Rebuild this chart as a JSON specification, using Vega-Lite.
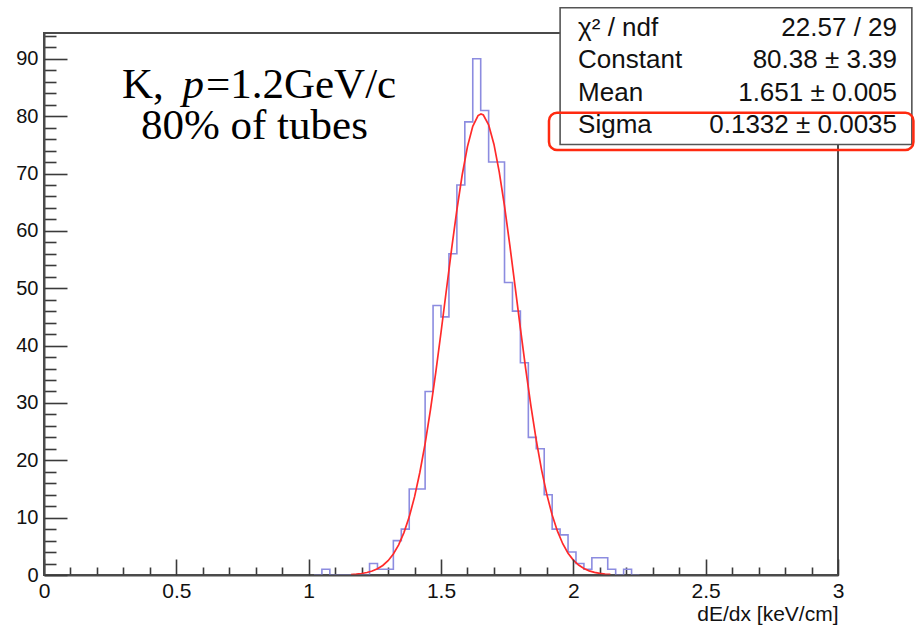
{
  "$schema": "https://vega.github.io/schema/vega-lite/v6.json",
  "width": 794,
  "height": 542,
  "autosize": {"type": "none"},
  "padding": {"left": 44, "top": 33, "right": 78, "bottom": 53},
  "background": "white",
  "data": {"values": [{}]},
  "config": {
    "view": {"stroke": "#4a4a4a", "strokeWidth": 2},
    "font": "Liberation Sans",
    "axis": {"labelFont": "Liberation Sans", "titleFont": "Liberation Sans", "labelColor": "#111", "titleColor": "#111", "grid": false}
  },
  "datasets": {
    "hist": [
      {"x": 1.02, "n": 0}, {"x": 1.05, "n": 1}, {"x": 1.08, "n": 0}, {"x": 1.11, "n": 0}, {"x": 1.14, "n": 0},
      {"x": 1.17, "n": 0}, {"x": 1.2, "n": 0}, {"x": 1.23, "n": 2}, {"x": 1.26, "n": 1}, {"x": 1.29, "n": 1},
      {"x": 1.32, "n": 6}, {"x": 1.35, "n": 8}, {"x": 1.38, "n": 15}, {"x": 1.41, "n": 15}, {"x": 1.44, "n": 32},
      {"x": 1.47, "n": 47}, {"x": 1.5, "n": 45}, {"x": 1.53, "n": 56}, {"x": 1.56, "n": 68}, {"x": 1.59, "n": 79},
      {"x": 1.62, "n": 90}, {"x": 1.65, "n": 81}, {"x": 1.68, "n": 72}, {"x": 1.71, "n": 72}, {"x": 1.74, "n": 51},
      {"x": 1.77, "n": 46}, {"x": 1.8, "n": 37}, {"x": 1.83, "n": 24}, {"x": 1.86, "n": 22}, {"x": 1.89, "n": 14},
      {"x": 1.92, "n": 8}, {"x": 1.95, "n": 7}, {"x": 1.98, "n": 4}, {"x": 2.01, "n": 2}, {"x": 2.04, "n": 1},
      {"x": 2.07, "n": 3}, {"x": 2.1, "n": 3}, {"x": 2.13, "n": 1}, {"x": 2.16, "n": 0}, {"x": 2.19, "n": 1},
      {"x": 2.22, "n": 0}, {"x": 2.25, "n": 0}
    ],
    "fit": [
      {"x": 1.16, "f": 0.09}, {"x": 1.18, "f": 0.155}, {"x": 1.2, "f": 0.26}, {"x": 1.22, "f": 0.428},
      {"x": 1.24, "f": 0.689}, {"x": 1.26, "f": 1.082}, {"x": 1.28, "f": 1.661}, {"x": 1.3, "f": 2.497},
      {"x": 1.32, "f": 3.668}, {"x": 1.34, "f": 5.265}, {"x": 1.36, "f": 7.392}, {"x": 1.38, "f": 10.14},
      {"x": 1.4, "f": 13.62}, {"x": 1.42, "f": 17.87}, {"x": 1.44, "f": 22.92}, {"x": 1.46, "f": 28.75},
      {"x": 1.48, "f": 35.26}, {"x": 1.5, "f": 42.28}, {"x": 1.52, "f": 49.56}, {"x": 1.54, "f": 56.8},
      {"x": 1.56, "f": 63.65}, {"x": 1.58, "f": 69.74}, {"x": 1.6, "f": 74.7}, {"x": 1.62, "f": 78.23},
      {"x": 1.64, "f": 80.11}, {"x": 1.651, "f": 80.38}, {"x": 1.66, "f": 80.2}, {"x": 1.68, "f": 78.5},
      {"x": 1.7, "f": 75.12}, {"x": 1.72, "f": 70.29}, {"x": 1.74, "f": 64.3}, {"x": 1.76, "f": 57.51},
      {"x": 1.78, "f": 50.29}, {"x": 1.8, "f": 43.0}, {"x": 1.82, "f": 35.94}, {"x": 1.84, "f": 29.38},
      {"x": 1.86, "f": 23.47}, {"x": 1.88, "f": 18.34}, {"x": 1.9, "f": 14.01}, {"x": 1.92, "f": 10.46},
      {"x": 1.94, "f": 7.64}, {"x": 1.96, "f": 5.452}, {"x": 1.98, "f": 3.805}, {"x": 2.0, "f": 2.597},
      {"x": 2.02, "f": 1.732}, {"x": 2.04, "f": 1.13}, {"x": 2.06, "f": 0.721}, {"x": 2.08, "f": 0.45},
      {"x": 2.1, "f": 0.274}, {"x": 2.12, "f": 0.163}, {"x": 2.14, "f": 0.095}
    ]
  },
  "layer": [
    {
      "data": {"name": "hist"},
      "mark": {"type": "line", "interpolate": "step-after", "color": "#8c8ce0", "strokeWidth": 1.6},
      "encoding": {
        "x": {"field": "x", "type": "quantitative", "scale": {"domain": [0, 3], "nice": false, "zero": false},
          "axis": {"orient": "bottom", "values": [0, 0.5, 1, 1.5, 2, 2.5, 3], "format": "~g", "ticks": false, "labelFontSize": 21, "labelPadding": 5, "labelFlush": false,
            "domain": true, "domainColor": "#4a4a4a", "domainWidth": 2, "zindex": 1,
            "title": "dE/dx [keV/cm]", "titleAnchor": "end", "titleFontSize": 21, "titleFontWeight": "normal", "titlePadding": 2}},
        "y": {"field": "n", "type": "quantitative", "scale": {"domain": [0, 94.5], "nice": false},
          "axis": {"orient": "left", "values": [0, 10, 20, 30, 40, 50, 60, 70, 80, 90], "ticks": false, "labelFontSize": 20, "labelPadding": 6,
            "labelFlush": false, "domain": true, "domainColor": "#4a4a4a", "domainWidth": 2, "zindex": 1, "title": null}}
      }
    },
    {
      "data": {"name": "fit"},
      "mark": {"type": "line", "color": "#ff2a2a", "strokeWidth": 1.7},
      "encoding": {
        "x": {"field": "x", "type": "quantitative",
          "axis": {"orient": "bottom", "values": [0, 0.5, 1, 1.5, 2, 2.5, 3], "labels": false, "domain": false, "tickSize": -16, "tickColor": "#3a3a3a", "tickWidth": 1.6, "title": null, "zindex": 1}},
        "y": {"field": "f", "type": "quantitative",
          "axis": {"orient": "left", "values": [0, 10, 20, 30, 40, 50, 60, 70, 80, 90], "labels": false, "domain": false, "tickSize": -23, "tickColor": "#3a3a3a", "tickWidth": 1.6, "title": null, "zindex": 1}}
      }
    },
    {
      "mark": {"type": "rect", "fill": "white", "stroke": "#555555", "strokeWidth": 1.6},
      "encoding": {
        "x": {"datum": 1.95, "type": "quantitative",
          "axis": {"orient": "bottom", "values": [0.1, 0.2, 0.3, 0.4, 0.6, 0.7, 0.8, 0.9, 1.1, 1.2, 1.3, 1.4, 1.6, 1.7, 1.8, 1.9, 2.1, 2.2, 2.3, 2.4, 2.6, 2.7, 2.8, 2.9], "labels": false, "domain": false, "tickSize": -8, "tickColor": "#3a3a3a", "tickWidth": 1.6, "title": null, "zindex": 0}},
        "x2": {"datum": 3.279},
        "y": {"datum": 98.9, "type": "quantitative",
          "axis": {"orient": "left", "values": [2, 4, 6, 8, 12, 14, 16, 18, 22, 24, 26, 28, 32, 34, 36, 38, 42, 44, 46, 48, 52, 54, 56, 58, 62, 64, 66, 68, 72, 74, 76, 78, 82, 84, 86, 88, 92, 94], "labels": false, "domain": false, "tickSize": -12, "tickColor": "#3a3a3a", "tickWidth": 1.6, "title": null, "zindex": 0}},
        "y2": {"datum": 75.07}
      }
    },
    {
      "mark": {"type": "text", "align": "left", "baseline": "alphabetic", "fontSize": 26, "color": "#111"},
      "encoding": {"x": {"datum": 2.018, "type": "quantitative", "axis": null}, "y": {"datum": 94.0, "type": "quantitative", "axis": null}, "text": {"value": "χ² / ndf"}}
    },
    {
      "mark": {"type": "text", "align": "left", "baseline": "alphabetic", "fontSize": 26, "color": "#111"},
      "encoding": {"x": {"datum": 2.018, "type": "quantitative", "axis": null}, "y": {"datum": 88.4, "type": "quantitative", "axis": null}, "text": {"value": "Constant"}}
    },
    {
      "mark": {"type": "text", "align": "left", "baseline": "alphabetic", "fontSize": 26, "color": "#111"},
      "encoding": {"x": {"datum": 2.018, "type": "quantitative", "axis": null}, "y": {"datum": 82.7, "type": "quantitative", "axis": null}, "text": {"value": "Mean"}}
    },
    {
      "mark": {"type": "text", "align": "left", "baseline": "alphabetic", "fontSize": 26, "color": "#111"},
      "encoding": {"x": {"datum": 2.018, "type": "quantitative", "axis": null}, "y": {"datum": 77.1, "type": "quantitative", "axis": null}, "text": {"value": "Sigma"}}
    },
    {
      "mark": {"type": "text", "align": "right", "baseline": "alphabetic", "fontSize": 26, "color": "#111"},
      "encoding": {"x": {"datum": 3.223, "type": "quantitative", "axis": null}, "y": {"datum": 94.0, "type": "quantitative", "axis": null}, "text": {"value": "22.57 / 29"}}
    },
    {
      "mark": {"type": "text", "align": "right", "baseline": "alphabetic", "fontSize": 26, "color": "#111"},
      "encoding": {"x": {"datum": 3.223, "type": "quantitative", "axis": null}, "y": {"datum": 88.4, "type": "quantitative", "axis": null}, "text": {"value": "80.38 ± 3.39"}}
    },
    {
      "mark": {"type": "text", "align": "right", "baseline": "alphabetic", "fontSize": 26, "color": "#111"},
      "encoding": {"x": {"datum": 3.223, "type": "quantitative", "axis": null}, "y": {"datum": 82.7, "type": "quantitative", "axis": null}, "text": {"value": "1.651 ± 0.005"}}
    },
    {
      "mark": {"type": "text", "align": "right", "baseline": "alphabetic", "fontSize": 26, "color": "#111"},
      "encoding": {"x": {"datum": 3.223, "type": "quantitative", "axis": null}, "y": {"datum": 77.1, "type": "quantitative", "axis": null}, "text": {"value": "0.1332 ± 0.0035"}}
    },
    {
      "mark": {"type": "rect", "fill": null, "fillOpacity": 0, "stroke": "#ff2a10", "strokeWidth": 2.5, "cornerRadius": 8},
      "encoding": {"x": {"datum": 1.908, "type": "quantitative", "axis": null}, "x2": {"datum": 3.285}, "y": {"datum": 80.6, "type": "quantitative", "axis": null}, "y2": {"datum": 74.1}}
    },
    {
      "mark": {"type": "text", "align": "left", "baseline": "alphabetic", "font": "Liberation Serif", "fontSize": 43, "color": "#000"},
      "encoding": {"x": {"datum": 0.2947, "type": "quantitative", "axis": null}, "y": {"datum": 83.2, "type": "quantitative", "axis": null}, "text": {"value": "K,"}}
    },
    {
      "mark": {"type": "text", "align": "left", "baseline": "alphabetic", "font": "Liberation Serif", "fontStyle": "italic", "fontSize": 43, "color": "#000"},
      "encoding": {"x": {"datum": 0.523, "type": "quantitative", "axis": null}, "y": {"datum": 83.2, "type": "quantitative", "axis": null}, "text": {"value": "p"}}
    },
    {
      "mark": {"type": "text", "align": "left", "baseline": "alphabetic", "font": "Liberation Serif", "fontSize": 43, "color": "#000"},
      "encoding": {"x": {"datum": 0.612, "type": "quantitative", "axis": null}, "y": {"datum": 83.2, "type": "quantitative", "axis": null}, "text": {"value": "=1.2GeV/c"}}
    },
    {
      "mark": {"type": "text", "align": "center", "baseline": "alphabetic", "font": "Liberation Serif", "fontSize": 43, "color": "#000"},
      "encoding": {"x": {"datum": 0.795, "type": "quantitative", "axis": null}, "y": {"datum": 76.0, "type": "quantitative", "axis": null}, "text": {"value": "80% of tubes"}}
    }
  ],
  "resolve": {"axis": {"x": "independent", "y": "independent"}}
}
